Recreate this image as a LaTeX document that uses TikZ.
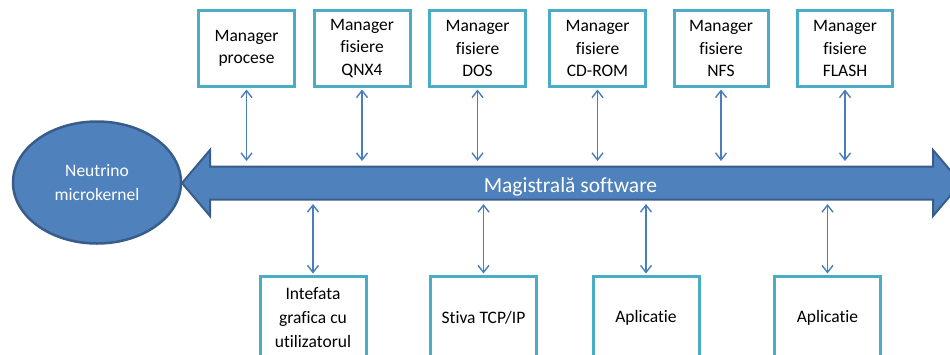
\documentclass[tikz,border=0pt]{standalone}
\usepackage{fontspec}
\setmainfont[Ligatures={NoCommon,NoRare}]{Carlito}
\usetikzlibrary{arrows.meta,shapes.geometric}
\definecolor{boxteal}{HTML}{4BACC6}
\definecolor{busfill}{HTML}{4F81BD}
\definecolor{busline}{HTML}{385D8A}
\definecolor{linkblue}{HTML}{4A7EBB}
\begin{document}
\begin{tikzpicture}[x=1pt,y=-1pt,
  mgr/.style={draw=boxteal, line width=3pt, fill=white, minimum width=96pt,
    minimum height=76pt, inner sep=0pt, align=center,
    font=\fontsize{17.5}{22.5}\selectfont},
  app/.style={mgr, minimum width=106pt, minimum height=83pt,
    font=\fontsize{17.5}{24}\selectfont},
  link/.style={draw=linkblue, line width=1.4pt,
    {Straight Barb[length=7pt,width=11pt]}-{Straight Barb[length=7pt,width=11pt]}}]
\useasboundingbox (0,0) rectangle (950,354);
\clip (0,0) rectangle (950,354);
% software bus
\draw[fill=busfill, draw=busline, line width=2pt, line join=miter]
  (182,183) -- (210,150) -- (210,166.5) -- (933,166.5) -- (933,150) -- (961,183)
  -- (933,216) -- (933,199.5) -- (210,199.5) -- (210,216) -- cycle;
\node[text=white, anchor=base, font=\fontsize{21.5}{25}\selectfont] (buslbl) at (570.5,192) {Magistrală software};
\coordinate (bustop) at (0,161);
\coordinate (busbot) at (0,204);
% microkernel
\node[ellipse, draw=busline, fill=busfill, line width=2.5pt, minimum width=168pt,
  minimum height=122pt, text=white, align=center, inner sep=0pt,
  font=\fontsize{17.5}{24}\selectfont] (nk) at (97,182.5) {Neutrino\\microkernel};
% top managers
\node[mgr] (p1) at (246.5,48.5) {Manager\\procese};
\node[mgr] (p2) at (362,48.5) {Manager\\fisiere\\QNX4};
\node[mgr] (p3) at (477.5,48.5) {Manager\\fisiere\\DOS};
\node[mgr] (p4) at (597.5,48.5) {Manager\\fisiere\\CD-ROM};
\node[mgr, minimum width=94pt] (p5) at (721,48.5) {Manager\\fisiere\\NFS};
\node[mgr, minimum width=95pt] (p6) at (845,48.5) {Manager\\fisiere\\FLASH};
% bottom boxes
\node[app] (a1) at (313,318) {Intefata\\grafica cu\\utilizatorul};
\node[app] (a2) at (483.5,318) {Stiva TCP/IP};
\node[app] (a3) at (646,318) {Aplicatie};
\node[app] (a4) at (827.5,318) {Aplicatie};
% links
\foreach \n in {p1,p2,p3,p4,p5,p6}
  \draw[link, shorten <=1.5pt] (\n.south) -- (\n.south |- bustop);
\foreach \n in {a1,a2,a3,a4}
  \draw[link, shorten >=1.5pt] (\n.north |- busbot) -- (\n.north);
\end{tikzpicture}
\end{document}
